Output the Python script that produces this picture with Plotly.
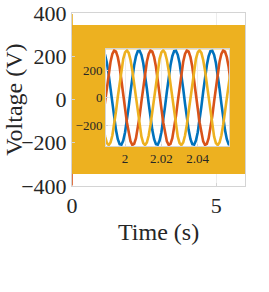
import numpy as np
import plotly.graph_objects as go

# ---- data ----
# one 50 Hz period (20 ms) of each phase, sampled every 1 ms (V)
cycle_ms = list(range(20))
phase_blue = [-252, -166, -65, 43, 147, 236, 302, 339, 342, 312,
              252, 166, 65, -43, -147, -236, -302, -339, -342, -312]
phase_orange = [-79, -179, -261, -318, -344, -336, -295, -225, -134, -29,
                79, 179, 261, 318, 344, 336, 295, 225, 134, 29]
phase_yellow = [330, 345, 326, 275, 197, 100, -7, -113, -209, -283,
                -330, -345, -326, -275, -197, -100, 7, 113, 209, 283]
# start-up values at t = 0 (V)
startup_blue = 0
startup_orange = -398
startup_yellow = 395
n_cycles_main = 300          # 0 .. 6 s
inset_window = (1.98, 2.06)  # s

main_x_ticks = [0, 5]
main_y_ticks = [-400, -200, 0, 200, 400]
inset_x_ticks = [2, 2.02, 2.04]
inset_x_labels = ["2", "2.02", "2.04"]
inset_y_ticks = [-200, 0, 200]

colors = {"blue": "#0072BD", "orange": "#D95319", "yellow": "#EDB120"}
FONT = "Times New Roman, Liberation Serif, serif"
TXT = "#262626"

# ---- build time series by repeating the measured period ----
def tile(samples, n, start_val):
    t = []
    v = []
    for c in range(n):
        for k, s in zip(cycle_ms, samples):
            t.append((c * 20 + k) / 1000.0)
            v.append(s)
    t.append(n * 20 / 1000.0)
    v.append(samples[0])
    v[0] = start_val
    return t, v

series = [
    ("blue", phase_blue, startup_blue),
    ("orange", phase_orange, startup_orange),
    ("yellow", phase_yellow, startup_yellow),
]

fig = go.Figure()
for name, samp, sv in series:
    t, v = tile(samp, n_cycles_main, sv)
    fig.add_trace(go.Scatter(x=t, y=v, mode="lines", line=dict(color=colors[name], width=1.6),
                             xaxis="x", yaxis="y", showlegend=False, hoverinfo="skip"))

for name, samp, sv in series:
    t, v = tile(samp, n_cycles_main, samp[0])
    ta = np.array(t)
    va = np.array(v)
    m = (ta >= inset_window[0]) & (ta <= inset_window[1])
    fig.add_trace(go.Scatter(x=ta[m], y=va[m], mode="lines", line=dict(color=colors[name], width=2.6),
                             xaxis="x2", yaxis="y2", showlegend=False, hoverinfo="skip"))

box = "#d4d4d4"
grid = "#ececec"
common = dict(showline=True, linecolor=box, linewidth=1, mirror=True, tickcolor=box,
              showgrid=True, gridcolor=grid, zeroline=False, automargin=False,
              ticklabeloverflow="allow")
fig.update_layout(
    width=269, height=292,
    margin=dict(l=72, r=24, t=13, b=106, autoexpand=False),
    paper_bgcolor="white", plot_bgcolor="white",
    font=dict(family=FONT, color=TXT),
    xaxis=dict(domain=[0, 1], range=[0, 6], tickvals=main_x_ticks, ticks="inside", ticklen=3,
               tickfont=dict(size=22, family=FONT, color=TXT), **common),
    yaxis=dict(domain=[0, 1], range=[-400, 400], tickvals=main_y_ticks, ticks="inside", ticklen=3,
               tickfont=dict(size=22, family=FONT, color=TXT), **common),
    xaxis2=dict(domain=[0.1965, 0.9075], anchor="y2", range=[1.9895, 2.0572], tickvals=inset_x_ticks,
                ticktext=inset_x_labels, ticks="inside", ticklen=2,
                tickfont=dict(size=13, family=FONT, color=TXT), **common),
    yaxis2=dict(domain=[0.231, 0.79], anchor="x2", range=[-352, 352], tickvals=inset_y_ticks,
                ticks="inside", ticklen=2,
                tickfont=dict(size=13, family=FONT, color=TXT), **common),
    annotations=[
        dict(text="Time (s)", xref="paper", yref="paper", x=0.5, y=-0.266, xanchor="center",
             yanchor="middle", showarrow=False, font=dict(size=24, family=FONT, color=TXT)),
        dict(text="Voltage (V)", xref="paper", yref="paper", x=-0.34, y=0.5, xanchor="center",
             yanchor="middle", textangle=-90, showarrow=False, font=dict(size=24, family=FONT, color=TXT)),
    ],
)

fig.write_html("out.html", config={"displayModeBar": False},
               post_script="document.body.style.margin='0';")
